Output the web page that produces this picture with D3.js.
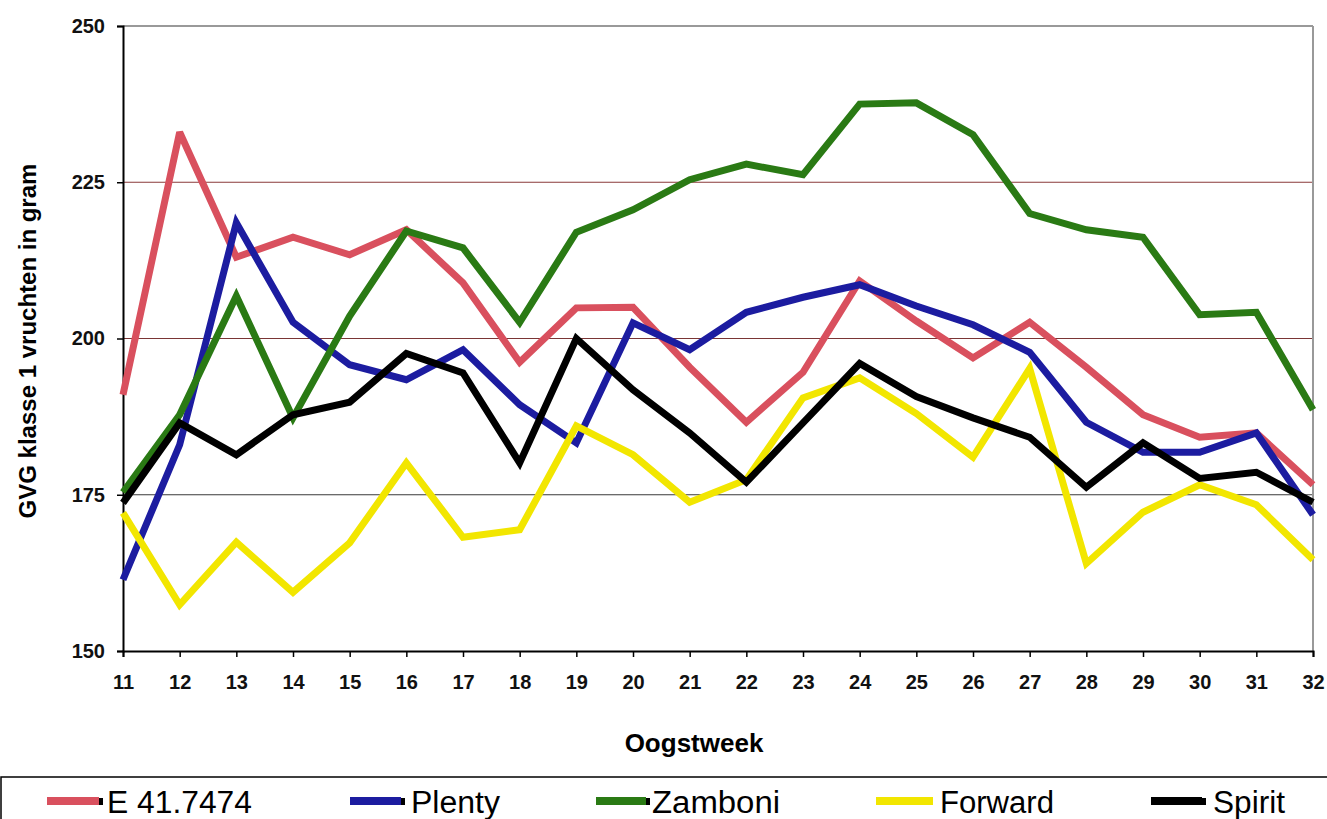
<!DOCTYPE html>
<html>
<head>
<meta charset="utf-8">
<script src="https://cdn.jsdelivr.net/npm/d3@7"></script>
<style>
  body { margin:0; background:#fff; }
  text { font-family: Arial, "Liberation Sans", sans-serif; }
</style>
</head>
<body>
<svg id="chart" width="1327" height="819"></svg>
<script>
var weeks = [11,12,13,14,15,16,17,18,19,20,21,22,23,24,25,26,27,28,29,30,31,32];
var seriesNames = ["E 41.7474","Plenty","Zamboni","Forward","Spirit"];
var e417474 = [191,233,213,216.2,213.4,217.4,208.9,196.2,204.9,205,195.4,186.6,194.6,209.2,202.8,196.9,202.6,195.4,187.8,184.2,184.9,176.6];
var plenty  = [161.4,183,218.5,202.6,195.8,193.4,198.2,189.4,183.3,202.5,198.2,204.2,206.6,208.6,205.2,202.2,197.8,186.6,181.8,181.8,184.9,171.8];
var zamboni = [175.4,187.8,206.8,187.3,203.6,217.2,214.5,202.6,217,220.6,225.4,227.9,226.2,237.5,237.7,232.6,220,217.4,216.2,203.8,204.2,188.6];
var forward = [172.1,157.4,167.4,159.4,167.3,180.1,168.2,169.4,186,181.4,173.8,177.4,190.5,193.7,188,181,195.2,164,172.2,176.6,173.4,164.6];
var spirit  = [173.7,186.5,181.4,187.8,189.8,197.6,194.5,180.1,200,191.8,184.9,177,186.5,196,190.7,187.3,184.2,176.2,183.3,177.6,178.6,173.8];
var yTicks = [150,175,200,225,250];

var colors = ["#d9505e","#1c1ca0","#2a7a14","#f2e600","#000000"];
var allSeries = [e417474, plenty, zamboni, forward, spirit];

var svg = d3.select("#chart");
var plot = {left:123, right:1313, top:26, bottom:651};

var x = d3.scaleLinear().domain([11,32]).range([plot.left,plot.right]);
var y = d3.scaleLinear().domain([150,250]).range([plot.bottom,plot.top]);

//grid lines
var gridColor = {175:"#3a3a3a",200:"#7a3535",225:"#8a3a3a"};
svg.append("g").selectAll("line")
  .data([175,200,225]).enter().append("line")
  .attr("x1",plot.left).attr("x2",plot.right)
  .attr("y1",function(d){return y(d);}).attr("y2",function(d){return y(d);})
  .attr("stroke",function(d){return gridColor[d];}).attr("stroke-width",1.2);

//plot border top and right
svg.append("line").attr("x1",plot.left).attr("x2",plot.right).attr("y1",plot.top).attr("y2",plot.top)
  .attr("stroke","#999").attr("stroke-width",2);
svg.append("line").attr("x1",plot.right).attr("x2",plot.right).attr("y1",plot.top).attr("y2",plot.bottom)
  .attr("stroke","#999").attr("stroke-width",2);

//axes
var yAxis = svg.append("g").attr("transform","translate("+plot.left+",0)")
  .call(d3.axisLeft(y).tickValues(yTicks).tickSize(6).tickPadding(12));
var xAxis = svg.append("g").attr("transform","translate(0,"+plot.bottom+")")
  .call(d3.axisBottom(x).tickValues(weeks).tickSize(6).tickPadding(18).tickFormat(d3.format("d")));
[yAxis,xAxis].forEach(function(a){
  a.select(".domain").attr("stroke","#000").attr("stroke-width",2);
  a.selectAll(".tick line").attr("stroke","#000").attr("stroke-width",1.5);
  a.selectAll("text").attr("font-size",20).attr("font-weight","bold").attr("fill","#111")
    .style("font-family","Arial, 'Liberation Sans', sans-serif");
});

//lines
var line = d3.line()
  .x(function(d,i){return x(weeks[i]);})
  .y(function(d){return y(d);});

allSeries.forEach(function(s,i){
  svg.append("path").datum(s)
    .attr("d",line)
    .attr("fill","none")
    .attr("stroke",colors[i])
    .attr("stroke-width",7)
    .attr("stroke-linejoin","miter")
    .attr("stroke-miterlimit",3);
});

//axis titles
svg.append("text")
  .attr("transform","translate(30,"+341+") rotate(-90)")
  .attr("text-anchor","middle").attr("dominant-baseline","middle")
  .attr("font-size",24).attr("font-weight","bold")
  .text("GVG klasse 1 vruchten in gram");
svg.append("text")
  .attr("x",694).attr("y",752)
  .attr("text-anchor","middle")
  .attr("font-size",26).attr("font-weight","bold")
  .text("Oogstweek");

//legend box
svg.append("rect").attr("x",1).attr("y",777).attr("width",1340).attr("height",60)
  .attr("fill","none").attr("stroke","#000").attr("stroke-width",1.5);

var swatchX = [47,350,596,876,1151];
var swatchW = [52,51,50,57,51];
var labelX = [107,411,652,940,1213];
var labelW = [145,89,128,114,72];
var legend = svg.append("g").selectAll("g")
  .data(seriesNames).enter().append("g");
legend.append("rect")
  .attr("x",function(d,i){return swatchX[i];}).attr("y",797)
  .attr("width",function(d,i){return swatchW[i];}).attr("height",8)
  .attr("fill",function(d,i){return colors[i];});
legend.append("rect")
  .attr("x",function(d,i){return swatchX[i]+swatchW[i];}).attr("y",798)
  .attr("width",4).attr("height",7)
  .attr("fill","#000").attr("opacity",function(d,i){return i==3?0:1;});
legend.append("text")
  .attr("x",function(d,i){return labelX[i];}).attr("y",813)
  .attr("font-size",31)
  .attr("textLength",function(d,i){return labelW[i];})
  .attr("lengthAdjust","spacingAndGlyphs")
  .text(function(d){return d;});
</script>
</body>
</html>
